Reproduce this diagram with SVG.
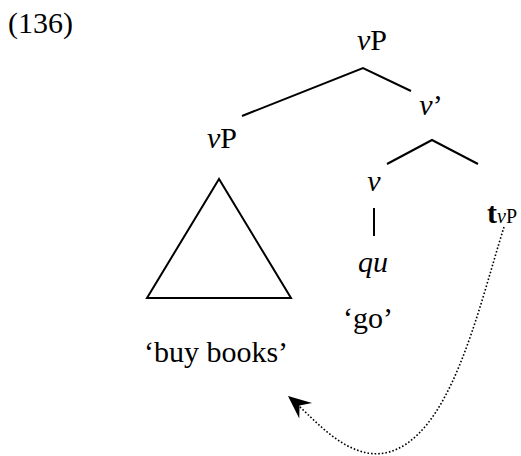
<svg xmlns="http://www.w3.org/2000/svg" width="521" height="456" viewBox="0 0 521 456">
<style>
text{font-family:'Liberation Serif',serif;font-size:30px;fill:#000}
.m{text-anchor:middle}
.i{font-style:italic}
.e{fill:none;stroke:#000;stroke-width:2}
.sub{font-size:20px}
</style>
<defs>
<marker id="ah" markerUnits="userSpaceOnUse" viewBox="0 -11 24 22" markerWidth="24" markerHeight="22" refX="23" refY="0" orient="auto">
<path d="M23,0 L0,-10 L8,0 L0,10 Z" fill="#000"/>
</marker>
</defs>
<rect width="521" height="456" fill="#fff"/>
<text id="label" x="8" y="33">(136)</text>
<g id="vP-top"><text class="m" x="372" y="50"><tspan class="i">v</tspan>P</text></g>
<g id="vbar"><text class="m" x="431" y="115"><tspan class="i">v</tspan>’</text></g>
<g id="vP-left"><text class="m" x="222" y="148"><tspan class="i">v</tspan>P</text>
<path class="e" d="M219,179 L147,298 L291,298 Z"/>
<text class="m" x="216" y="362">‘buy books’</text></g>
<g id="v"><text class="m i" x="374" y="191">v</text></g>
<g id="qu"><text class="m i" x="373" y="272">qu</text>
<text class="m" x="368" y="328">‘go’</text></g>
<g id="trace"><text x="487" y="223"><tspan font-weight="bold">t</tspan><tspan class="sub i">v</tspan><tspan class="sub">P</tspan></text></g>
<g id="connectors">
<path class="e" d="M242,116 L363,68 L411,91"/>
<path class="e" d="M387,164 L432,140 L478,164"/>
<path class="e" d="M374,208 L374,236"/>
<path fill="none" stroke="#000" stroke-width="1.6" stroke-dasharray="1.6 2" d="M504,227 C478,310 450,440 385,453 C345,460 312,416 288,396" marker-end="url(#ah)"/>
</g>
</svg>
